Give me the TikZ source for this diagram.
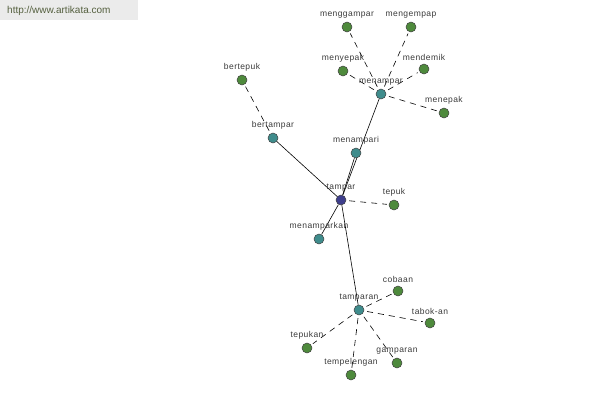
\documentclass[tikz,border=0pt]{standalone}
\usepackage{fontspec}
\usetikzlibrary{backgrounds}
\setmainfont{Liberation Sans}
\newfontfamily\labfont[LetterSpace=5]{Liberation Sans}
\definecolor{leafg}{HTML}{4E8A3C}
\definecolor{midt}{HTML}{3F8C8C}
\definecolor{rootb}{HTML}{3E3E8C}
\definecolor{hdrbg}{HTML}{EBEBEB}
\definecolor{hdrtx}{HTML}{55603F}
\definecolor{labtx}{HTML}{3A3A3A}
\begin{document}
\begin{tikzpicture}[x=1pt,y=-1pt,
  vtx/.style={circle,draw=black!75,line width=0.5pt,minimum size=10pt,inner sep=0pt},
  leaf/.style={vtx,fill=leafg},
  mid/.style={vtx,fill=midt},
  root/.style={vtx,fill=rootb},
  lab/.style={font=\labfont\fontsize{8.5}{9}\selectfont,text=labtx,inner sep=0pt},
  every label/.style={lab},
  label distance=3pt,
  strong/.style={draw=black,line width=0.6pt},
  weak/.style={draw=black,line width=0.6pt,dash pattern=on 6pt off 5pt,shorten >=2pt,shorten <=3pt}]
\useasboundingbox (0,0) rectangle (600,400);
% header
\fill[hdrbg] (0,0) rectangle (138,20);
\node[font=\fontsize{10}{12}\selectfont,text=hdrtx,anchor=west,inner sep=0pt] (hdr) at (7,11) {http://www.artikata.com};
% nodes
\node[root,label=above:tampar] (tampar) at (341,200) {};
\node[mid,label=above:menampari] (menampari) at (356,153) {};
\node[mid,label=above:menampar] (menampar) at (381,94) {};
\node[mid,label=above:bertampar] (bertampar) at (273,138) {};
\node[mid,label=above:menamparkan] (menamparkan) at (319,239) {};
\node[mid,label=above:tamparan] (tamparan) at (359,310) {};
\node[leaf,label=above:tepuk] (tepuk) at (394,205) {};
\node[leaf,label=above:bertepuk] (bertepuk) at (242,80) {};
\node[leaf,label=above:menggampar] (menggampar) at (347,27) {};
\node[leaf,label=above:mengempap] (mengempap) at (411,27) {};
\node[leaf,label=above:menyepak] (menyepak) at (343,71) {};
\node[leaf,label=above:mendemik] (mendemik) at (424,69) {};
\node[leaf,label=above:menepak] (menepak) at (444,113) {};
\node[leaf,label=above:cobaan] (cobaan) at (398,291) {};
\node[leaf,label=above:tabok-an] (tabokan) at (430,323) {};
\node[leaf,label=above:tepukan] (tepukan) at (307,348) {};
\node[leaf,label=above:tempelengan] (tempelengan) at (351,375) {};
\node[leaf,label=above:gamparan] (gamparan) at (397,363) {};
% edges
\begin{pgfonlayer}{background}
\draw[strong] (tampar) -- (bertampar);
\draw[strong] (tampar) -- (menampari);
\draw[strong] (tampar) -- (menampar);
\draw[strong] (tampar) -- (menamparkan);
\draw[strong] (tampar) -- (tamparan);
\draw[weak] (tampar) -- (tepuk);
\draw[weak] (bertampar) -- (bertepuk);
\draw[weak] (menampar) -- (menggampar);
\draw[weak] (menampar) -- (mengempap);
\draw[weak] (menampar) -- (menyepak);
\draw[weak] (menampar) -- (mendemik);
\draw[weak] (menampar) -- (menepak);
\draw[weak] (tamparan) -- (cobaan);
\draw[weak] (tamparan) -- (tabokan);
\draw[weak] (tamparan) -- (tepukan);
\draw[weak] (tamparan) -- (tempelengan);
\draw[weak] (tamparan) -- (gamparan);
\end{pgfonlayer}
\end{tikzpicture}
\end{document}
